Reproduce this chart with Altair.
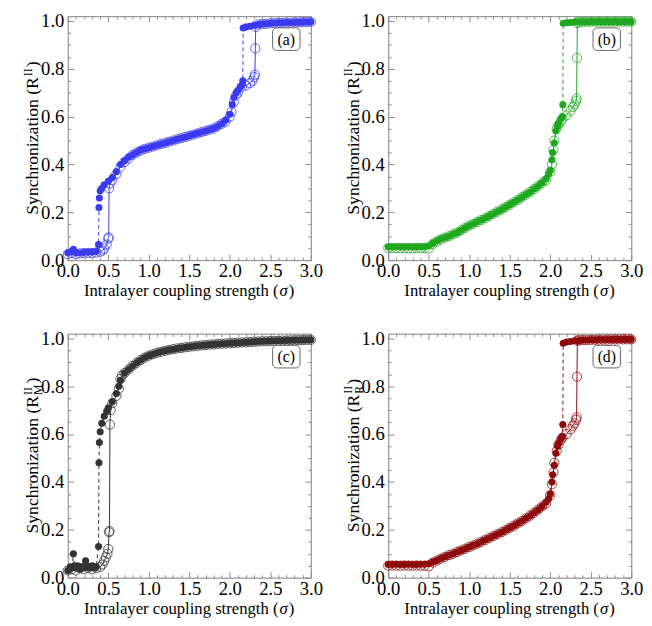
import altair as alt
import pandas as pd

# ---------------- data ----------------
GRID = [0.00, 0.05, 0.10, 0.15, 0.20, 0.25, 0.30, 0.35, 0.40, 0.45,
        0.50, 0.55, 0.60, 0.65, 0.70, 0.75, 0.80, 0.85, 0.90, 0.95,
        1.00, 1.05, 1.10, 1.15, 1.20, 1.25, 1.30, 1.35, 1.40, 1.45,
        1.50, 1.55, 1.60, 1.65, 1.70, 1.75, 1.80, 1.85, 1.90, 1.95,
        2.00, 2.05, 2.10, 2.15, 2.20, 2.25, 2.30, 2.35, 2.40, 2.45,
        2.50, 2.55, 2.60, 2.65, 2.70, 2.75, 2.80, 2.85, 2.90, 2.95,
        3.00]

# panel (a)  R^II
A_BWD = [0.030, 0.035, 0.030, 0.030, 0.032, 0.033, 0.034, 0.036, 0.290, 0.315,
         0.330, 0.345, 0.370, 0.400, 0.415, 0.430, 0.440, 0.450, 0.460, 0.465,
         0.470, 0.475, 0.480, 0.485, 0.490, 0.495, 0.500, 0.505, 0.510, 0.515,
         0.520, 0.525, 0.530, 0.535, 0.540, 0.545, 0.550, 0.560, 0.570, 0.585,
         0.610, 0.680, 0.710, 0.730, 0.975, 0.978, 0.982, 0.985, 0.987, 0.988,
         0.990, 0.991, 0.992, 0.992, 0.993, 0.993, 0.994, 0.994, 0.995, 0.995,
         0.996]
A_BWD_EX_X = [0.07, 0.38, 0.385, 0.39, 0.42, 2.03, 2.08, 2.13, 2.16, 2.165]
A_BWD_EX_Y = [0.045, 0.065, 0.22, 0.26, 0.30, 0.65, 0.70, 0.725, 0.75, 0.97]
A_FWD = [0.025, 0.030, 0.025, 0.028, 0.030, 0.030, 0.030, 0.032, 0.035, 0.048,
         0.090, 0.335, 0.360, 0.390, 0.410, 0.425, 0.440, 0.450, 0.458, 0.465,
         0.470, 0.475, 0.480, 0.485, 0.490, 0.495, 0.500, 0.505, 0.510, 0.515,
         0.520, 0.525, 0.530, 0.535, 0.540, 0.545, 0.550, 0.560, 0.570, 0.580,
         0.600, 0.660, 0.700, 0.725, 0.730, 0.740, 0.765, 0.985, 0.987, 0.988,
         0.990, 0.991, 0.992, 0.992, 0.993, 0.993, 0.994, 0.994, 0.995, 0.995,
         0.996]
A_FWD_EX_X = [0.43, 0.48, 0.505, 0.51, 0.52, 2.02, 2.08, 2.28, 2.31, 2.315, 2.32]
A_FWD_EX_Y = [0.040, 0.065, 0.095, 0.30, 0.32, 0.62, 0.69, 0.75, 0.775, 0.885, 0.975]

# panel (b)  R_L^II
B_BWD = [0.055, 0.055, 0.056, 0.055, 0.055, 0.056, 0.055, 0.055, 0.056, 0.056,
         0.060, 0.070, 0.080, 0.088, 0.095, 0.100, 0.108, 0.115, 0.125, 0.135,
         0.145, 0.152, 0.160, 0.168, 0.176, 0.185, 0.194, 0.203, 0.212, 0.222,
         0.232, 0.242, 0.252, 0.263, 0.274, 0.285, 0.297, 0.310, 0.323, 0.340,
         0.375, 0.490, 0.570, 0.600, 0.992, 0.993, 0.995, 0.996, 0.996, 0.996,
         0.997, 0.997, 0.997, 0.997, 0.997, 0.997, 0.997, 0.997, 0.997, 0.997,
         0.997]
B_BWD_EX_X = [1.98, 2.02, 2.03, 2.07, 2.09, 2.13, 2.155, 2.16]
B_BWD_EX_Y = [0.36, 0.42, 0.45, 0.54, 0.56, 0.59, 0.65, 0.99]
B_FWD = [0.050, 0.051, 0.050, 0.050, 0.051, 0.050, 0.050, 0.051, 0.050, 0.050,
         0.048, 0.068, 0.078, 0.087, 0.094, 0.100, 0.108, 0.115, 0.125, 0.135,
         0.145, 0.152, 0.160, 0.168, 0.176, 0.185, 0.194, 0.203, 0.212, 0.222,
         0.232, 0.242, 0.252, 0.263, 0.274, 0.285, 0.297, 0.310, 0.323, 0.335,
         0.370, 0.500, 0.565, 0.590, 0.605, 0.625, 0.650, 0.996, 0.996, 0.996,
         0.997, 0.997, 0.997, 0.997, 0.997, 0.997, 0.997, 0.997, 0.997, 0.997,
         0.997]
B_FWD_EX_X = [2.02, 2.04, 2.08, 2.13, 2.28, 2.32, 2.325, 2.33, 2.335]
B_FWD_EX_Y = [0.40, 0.46, 0.55, 0.58, 0.64, 0.665, 0.675, 0.845, 0.99]

# panel (c)  R_M^II
C_BWD = [0.030, 0.040, 0.040, 0.035, 0.040, 0.045, 0.050, 0.045, 0.610, 0.675,
         0.710, 0.735, 0.770, 0.825, 0.855, 0.870, 0.885, 0.898, 0.910, 0.920,
         0.928, 0.934, 0.940, 0.944, 0.948, 0.952, 0.955, 0.958, 0.960, 0.963,
         0.965, 0.967, 0.969, 0.971, 0.972, 0.974, 0.975, 0.977, 0.978, 0.979,
         0.980, 0.981, 0.982, 0.983, 0.984, 0.985, 0.986, 0.987, 0.988, 0.988,
         0.989, 0.990, 0.990, 0.991, 0.991, 0.992, 0.992, 0.993, 0.993, 0.994,
         0.994]
C_BWD_EX_X = [0.03, 0.07, 0.08, 0.12, 0.18, 0.22, 0.24, 0.27, 0.33, 0.38, 0.385,
              0.39, 0.42, 0.48, 0.63]
C_BWD_EX_Y = [0.045, 0.10, 0.05, 0.05, 0.045, 0.07, 0.045, 0.04, 0.04, 0.13, 0.48,
              0.565, 0.645, 0.695, 0.80]
C_FWD = [0.030, 0.035, 0.030, 0.040, 0.035, 0.040, 0.035, 0.040, 0.045, 0.070,
         0.120, 0.730, 0.760, 0.830, 0.855, 0.870, 0.885, 0.898, 0.910, 0.920,
         0.928, 0.934, 0.940, 0.944, 0.948, 0.952, 0.955, 0.958, 0.960, 0.963,
         0.965, 0.967, 0.969, 0.971, 0.972, 0.974, 0.975, 0.977, 0.978, 0.979,
         0.980, 0.981, 0.982, 0.983, 0.984, 0.985, 0.986, 0.987, 0.988, 0.988,
         0.989, 0.990, 0.990, 0.991, 0.991, 0.992, 0.992, 0.993, 0.993, 0.994,
         0.994]
C_FWD_EX_X = [0.43, 0.47, 0.49, 0.51, 0.515, 0.52, 0.53, 0.63, 0.67]
C_FWD_EX_Y = [0.055, 0.085, 0.10, 0.19, 0.195, 0.64, 0.70, 0.79, 0.845]

# panel (d)  R_R^II
D_BWD = [0.055, 0.055, 0.056, 0.055, 0.055, 0.056, 0.055, 0.055, 0.056, 0.056,
         0.058, 0.065, 0.072, 0.080, 0.087, 0.094, 0.100, 0.107, 0.114, 0.121,
         0.128, 0.135, 0.142, 0.150, 0.158, 0.166, 0.174, 0.182, 0.190, 0.199,
         0.208, 0.217, 0.227, 0.237, 0.248, 0.259, 0.271, 0.284, 0.298, 0.315,
         0.350, 0.470, 0.560, 0.590, 0.985, 0.987, 0.990, 0.991, 0.993, 0.993,
         0.994, 0.994, 0.995, 0.995, 0.995, 0.996, 0.996, 0.996, 0.996, 0.996,
         0.996]
D_BWD_EX_X = [1.98, 2.02, 2.03, 2.07, 2.09, 2.13, 2.155, 2.16]
D_BWD_EX_Y = [0.33, 0.40, 0.43, 0.52, 0.55, 0.58, 0.64, 0.98]
D_FWD = [0.050, 0.051, 0.050, 0.050, 0.051, 0.050, 0.050, 0.051, 0.050, 0.050,
         0.047, 0.063, 0.071, 0.079, 0.087, 0.094, 0.100, 0.107, 0.114, 0.121,
         0.128, 0.135, 0.142, 0.150, 0.158, 0.166, 0.174, 0.182, 0.190, 0.199,
         0.208, 0.217, 0.227, 0.237, 0.248, 0.259, 0.271, 0.284, 0.298, 0.310,
         0.345, 0.480, 0.555, 0.585, 0.600, 0.620, 0.645, 0.993, 0.993, 0.993,
         0.994, 0.994, 0.995, 0.995, 0.995, 0.996, 0.996, 0.996, 0.996, 0.996,
         0.996]
D_FWD_EX_X = [2.02, 2.04, 2.08, 2.13, 2.28, 2.32, 2.325, 2.33, 2.335]
D_FWD_EX_Y = [0.39, 0.44, 0.53, 0.575, 0.635, 0.66, 0.67, 0.84, 0.99]

X_MAJOR = [0.0, 0.5, 1.0, 1.5, 2.0, 2.5, 3.0]
X_ALL = [0.0, 0.1, 0.2, 0.3, 0.4, 0.5, 0.6, 0.7, 0.8, 0.9, 1.0, 1.1, 1.2, 1.3, 1.4,
         1.5, 1.6, 1.7, 1.8, 1.9, 2.0, 2.1, 2.2, 2.3, 2.4, 2.5, 2.6, 2.7, 2.8, 2.9, 3.0]
Y_MAJOR = [0.0, 0.2, 0.4, 0.6, 0.8, 1.0]
Y_ALL = [0.0, 0.05, 0.1, 0.15, 0.2, 0.25, 0.3, 0.35, 0.4, 0.45, 0.5, 0.55, 0.6,
         0.65, 0.7, 0.75, 0.8, 0.85, 0.9, 0.95, 1.0]

COLORS = ["#3a3aef", "#1fa81f", "#333333", "#8e0c0c"]
TAGS = ["(a)", "(b)", "(c)", "(d)"]
SUBS = ["", "L", "M", "R"]
X_TITLE = ["Intralayer coupling strength (", "\u03c3", ")"]
Y_TITLE = ["Synchronization (R", "II", ")"]

# ---------------- styling ----------------
PW, PH = 248, 249
FONT = "Liberation Serif"
TC = "#8a8a8a"

for g, e1, e2 in [(A_BWD, A_BWD_EX_X, A_BWD_EX_Y), (A_FWD, A_FWD_EX_X, A_FWD_EX_Y),
                  (B_BWD, B_BWD_EX_X, B_BWD_EX_Y), (B_FWD, B_FWD_EX_X, B_FWD_EX_Y),
                  (C_BWD, C_BWD_EX_X, C_BWD_EX_Y), (C_FWD, C_FWD_EX_X, C_FWD_EX_Y),
                  (D_BWD, D_BWD_EX_X, D_BWD_EX_Y), (D_FWD, D_FWD_EX_X, D_FWD_EX_Y)]:
    assert len(g) == len(GRID) and len(e1) == len(e2)

TICK_X = {"condition": {"test": "abs(datum.value*10 - round(datum.value*2)*5) < 0.01", "value": 6}, "value": 3}
TICK_Y = {"condition": {"test": "abs(datum.value*20 - round(datum.value*5)*4) < 0.01", "value": 6}, "value": 3}


def tick_axis(orient, offset, values, size):
    return alt.Axis(orient=orient, offset=offset, values=values, labels=False,
                    domain=True, domainColor=TC, domainWidth=1, grid=False,
                    title=None, tickSize=size, tickColor=TC, tickWidth=1)


def panel(gb, bx, by, gf, fx, fy, color, tag, sub):
    dfb = pd.DataFrame({"s": GRID + bx, "r": gb + by}).sort_values("s")
    dff = pd.DataFrame({"s": GRID + fx, "r": gf + fy}).sort_values("s")
    xs = alt.Scale(domain=[0, 3], nice=False, zero=False, padding=0)
    ys = alt.Scale(domain=[0, 1.02], nice=False, zero=False, padding=0)

    ax_xl = alt.Axis(orient="bottom", values=X_MAJOR, format=".1f", ticks=False,
                     domain=False, grid=False, title=None, labelPadding=2,
                     labelFlush=False, labelOverlap=False,
                     labelFont=FONT, labelFontSize=19, labelColor="black")
    ax_yl = alt.Axis(orient="left", values=Y_MAJOR, format=".1f", ticks=False,
                     domain=False, grid=False, title=None, labelPadding=4,
                     labelFlush=False, labelOverlap=False,
                     labelFont=FONT, labelFontSize=19, labelColor="black")

    bl = alt.Chart(dfb).mark_line(color=color, strokeWidth=1, strokeDash=[4, 3]).encode(
        x=alt.X("s:Q", scale=xs, axis=ax_xl),
        y=alt.Y("r:Q", scale=ys, axis=ax_yl))
    bp = alt.Chart(dfb).mark_circle(color=color, size=52, opacity=1).encode(
        x=alt.X("s:Q", scale=xs, axis=tick_axis("top", -PH, X_ALL, TICK_X)),
        y=alt.Y("r:Q", scale=ys, axis=tick_axis("right", -PW, Y_ALL, TICK_Y)))
    fl = alt.Chart(dff).mark_line(color=color, strokeWidth=1).encode(
        x=alt.X("s:Q", scale=xs, axis=tick_axis("bottom", -PH, X_ALL, TICK_X)),
        y=alt.Y("r:Q", scale=ys, axis=tick_axis("left", -PW, Y_ALL, TICK_Y)))
    fp = alt.Chart(dff).mark_point(color=color, size=88, strokeWidth=0.8,
                                   filled=False, opacity=1).encode(
        x=alt.X("s:Q", scale=xs, axis=None),
        y=alt.Y("r:Q", scale=ys, axis=None))

    lab = pd.DataFrame({"t": [tag]})
    box = alt.Chart(lab).mark_rect(fill="white", stroke="#555555", strokeWidth=0.9,
                                   cornerRadius=4).encode(
        x=alt.value(PW - 39), x2=alt.value(PW - 11), y=alt.value(12), y2=alt.value(35))
    btx = alt.Chart(lab).mark_text(font=FONT, fontSize=16, color="black",
                                   baseline="middle").encode(
        x=alt.value(PW - 25), y=alt.value(24), text="t:N")

    # x title: "Intralayer coupling strength (" + italic sigma + ")"
    xt = pd.DataFrame({"a": [X_TITLE[0]], "b": [X_TITLE[1]], "c": [X_TITLE[2]]})
    xa = PW / 2 + 91
    xy = PH + 37
    xt1 = alt.Chart(xt).mark_text(font=FONT, fontSize=17, align="right",
                                  baseline="alphabetic", color="black").encode(
        x=alt.value(xa), y=alt.value(xy), text="a:N")
    xt2 = alt.Chart(xt).mark_text(font=FONT, fontSize=17, fontStyle="italic", align="left",
                                  baseline="alphabetic", color="black", dx=1).encode(
        x=alt.value(xa), y=alt.value(xy), text="b:N")
    xt3 = alt.Chart(xt).mark_text(font=FONT, fontSize=17, align="left",
                                  baseline="alphabetic", color="black", dx=10.5).encode(
        x=alt.value(xa), y=alt.value(xy), text="c:N")

    # y title: "Synchronization (R" + sup "II" + sub + ")"
    sub_w = {"": 0, "L": 7.3, "M": 10.7, "R": 8.0}[sub]
    scr_w = max(8.0, sub_w)
    total = 140.5 + 1 + scr_w + 1 + 6
    ya = PH / 2 + total / 2 - 140.5
    yx = -30
    yt = pd.DataFrame({"a": [Y_TITLE[0]], "b": [Y_TITLE[1]], "c": [sub], "d": [Y_TITLE[2]]})
    common = dict(font=FONT, angle=270, baseline="alphabetic", color="black")
    yt1 = alt.Chart(yt).mark_text(fontSize=18, align="right", **common).encode(
        x=alt.value(yx), y=alt.value(ya), text="a:N")
    yt2 = alt.Chart(yt).mark_text(fontSize=12, align="left", dx=1, dy=-7, **common).encode(
        x=alt.value(yx), y=alt.value(ya), text="b:N")
    yt4 = alt.Chart(yt).mark_text(fontSize=18, align="left", dx=2 + scr_w, **common).encode(
        x=alt.value(yx), y=alt.value(ya), text="d:N")
    layers = [bl, bp, fl, fp, box, btx, xt1, xt2, xt3, yt1, yt2, yt4]
    if sub:
        yt3 = alt.Chart(yt).mark_text(fontSize=12, align="left", dx=1, dy=4, **common).encode(
            x=alt.value(yx), y=alt.value(ya), text="c:N")
        layers.append(yt3)

    return alt.layer(*layers).resolve_axis(x="independent", y="independent").properties(
        width=PW, height=PH)


pa = panel(A_BWD, A_BWD_EX_X, A_BWD_EX_Y, A_FWD, A_FWD_EX_X, A_FWD_EX_Y, COLORS[0], TAGS[0], SUBS[0])
pb = panel(B_BWD, B_BWD_EX_X, B_BWD_EX_Y, B_FWD, B_FWD_EX_X, B_FWD_EX_Y, COLORS[1], TAGS[1], SUBS[1])
pc = panel(C_BWD, C_BWD_EX_X, C_BWD_EX_Y, C_FWD, C_FWD_EX_X, C_FWD_EX_Y, COLORS[2], TAGS[2], SUBS[2])
pd_ = panel(D_BWD, D_BWD_EX_X, D_BWD_EX_Y, D_FWD, D_FWD_EX_X, D_FWD_EX_Y, COLORS[3], TAGS[3], SUBS[3])

top = alt.hconcat(pa, pb, spacing=18)
bottom = alt.hconcat(pc, pd_, spacing=18)
chart = alt.vconcat(top, bottom, spacing=29).properties(
    padding={"left": 13, "top": -3, "right": 0, "bottom": 0}
).configure_view(strokeOpacity=0).configure(background="white")

chart.save("out.html", embed_options={"renderer": "svg", "actions": False})
